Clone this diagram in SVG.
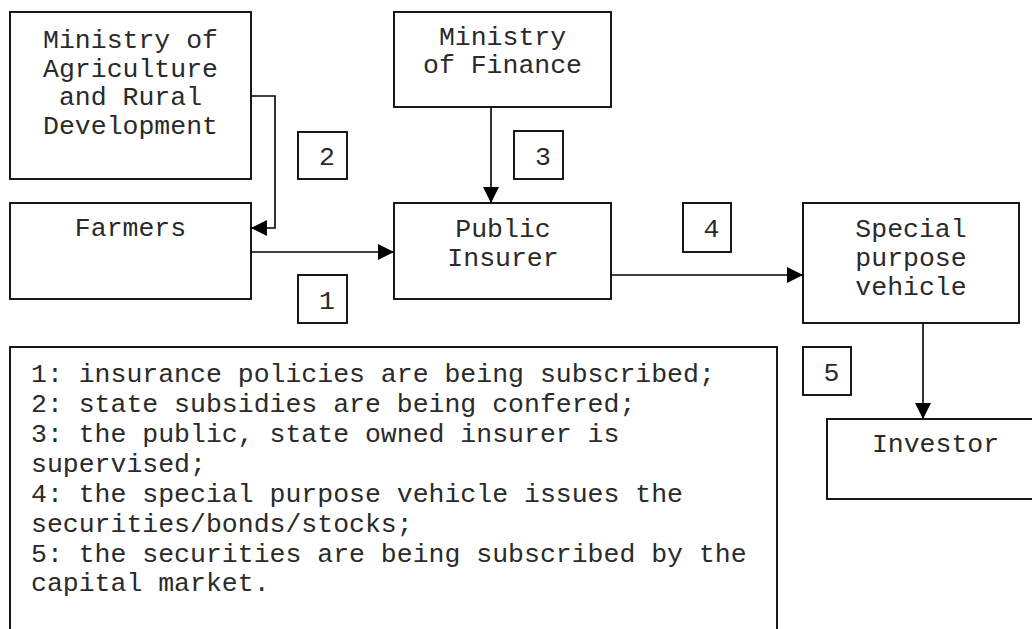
<svg xmlns="http://www.w3.org/2000/svg" width="1032" height="629" viewBox="0 0 1032 629">
  <style>
    .box { fill: #ffffff; stroke: #000000; stroke-width: 1.8; }
    .lbl { fill: #ffffff; stroke: #000000; stroke-width: 1.8; }
    .t { font-family: "Liberation Mono", "Courier New", monospace; font-size: 26.5px; fill: #2a2a2a; }
    .c { text-anchor: middle; }
    .conn { fill: none; stroke: #000000; stroke-width: 1.6; }
  </style>
  <defs>
    <marker id="arrow" markerUnits="userSpaceOnUse" markerWidth="16" markerHeight="16" refX="16" refY="8" orient="auto">
      <path d="M0,0 L16,8 L0,16 Z" fill="#000000"/>
    </marker>
  </defs>
  <rect width="1032" height="629" fill="#ffffff"/>

  <g id="connectors">
    <polyline class="conn" points="251,96 275,96 275,228 251,228" marker-end="url(#arrow)"/>
    <line class="conn" x1="251" y1="252" x2="394" y2="252" marker-end="url(#arrow)"/>
    <line class="conn" x1="491" y1="107" x2="491" y2="203" marker-end="url(#arrow)"/>
    <line class="conn" x1="611" y1="275" x2="803" y2="275" marker-end="url(#arrow)"/>
    <line class="conn" x1="923" y1="323" x2="923" y2="419" marker-end="url(#arrow)"/>
  </g>

  <g id="ministry-agriculture">
    <rect class="box" x="10" y="12" width="241" height="167"/>
    <text class="t c" x="130.5" y="48">Ministry of</text>
    <text class="t c" x="130.5" y="76.5">Agriculture</text>
    <text class="t c" x="130.5" y="105">and Rural</text>
    <text class="t c" x="130.5" y="133.5">Development</text>
  </g>

  <g id="farmers">
    <rect class="box" x="10" y="203" width="241" height="96"/>
    <text class="t c" x="130.5" y="236">Farmers</text>
  </g>

  <g id="ministry-finance">
    <rect class="box" x="394" y="12" width="217" height="95"/>
    <text class="t c" x="502.5" y="45">Ministry</text>
    <text class="t c" x="502.5" y="73">of Finance</text>
  </g>

  <g id="public-insurer">
    <rect class="box" x="394" y="203" width="217" height="96"/>
    <text class="t c" x="503" y="237">Public</text>
    <text class="t c" x="503" y="266">Insurer</text>
  </g>

  <g id="spv">
    <rect class="box" x="803" y="203" width="216" height="120"/>
    <text class="t c" x="911" y="237">Special</text>
    <text class="t c" x="911" y="266">purpose</text>
    <text class="t c" x="911" y="295">vehicle</text>
  </g>

  <g id="investor">
    <rect class="box" x="827" y="419" width="217" height="80"/>
    <text class="t c" x="935.5" y="452">Investor</text>
  </g>

  <g id="label-1">
    <rect class="lbl" x="298" y="275" width="49" height="48"/>
    <text class="t c" x="327" y="309">1</text>
  </g>
  <g id="label-2">
    <rect class="lbl" x="298" y="132" width="49" height="47"/>
    <text class="t c" x="327" y="165">2</text>
  </g>
  <g id="label-3">
    <rect class="lbl" x="514" y="131" width="49" height="48"/>
    <text class="t c" x="543" y="165">3</text>
  </g>
  <g id="label-4">
    <rect class="lbl" x="683" y="203" width="48" height="49"/>
    <text class="t c" x="711.5" y="237">4</text>
  </g>
  <g id="label-5">
    <rect class="lbl" x="803" y="347" width="48" height="48"/>
    <text class="t c" x="831.5" y="381">5</text>
  </g>

  <g id="legend">
    <rect class="box" x="10" y="347" width="767" height="300"/>
    <text class="t" x="31" y="382">1: insurance policies are being subscribed;</text>
    <text class="t" x="31" y="412">2: state subsidies are being confered;</text>
    <text class="t" x="31" y="442">3: the public, state owned insurer is</text>
    <text class="t" x="31" y="472">supervised;</text>
    <text class="t" x="31" y="502">4: the special purpose vehicle issues the</text>
    <text class="t" x="31" y="532">securities/bonds/stocks;</text>
    <text class="t" x="31" y="562">5: the securities are being subscribed by the</text>
    <text class="t" x="31" y="591">capital market.</text>
  </g>
</svg>
